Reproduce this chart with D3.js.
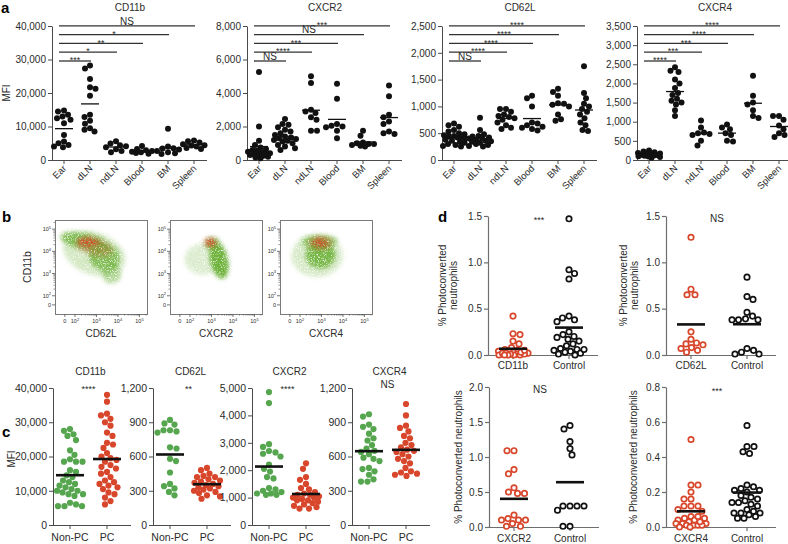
<!DOCTYPE html>
<html><head><meta charset="utf-8">
<script src="https://cdn.jsdelivr.net/npm/d3@7/dist/d3.min.js"></script>
<style>html,body{margin:0;padding:0;background:#fff;} svg{display:block;}</style>
</head><body>
<svg id="fig" width="788" height="544" xmlns="http://www.w3.org/2000/svg"></svg>
<script>
// ================= DATA =================
// Panel a: MFI per tissue (order Ear, dLN, ndLN, Blood, BM, Spleen)
const tissues = ["Ear","dLN","ndLN","Blood","BM","Spleen"];
const aCD11b = [
  [14800,14500,13500,13000,12500,12000,11000,7500,5500,5000,4500,4000,3800],
  [28200,27300,24200,21700,21300,19200,13500,12800,11700,10800,9500,9000,8500],
  [5600,4900,4400,3800,3200,2700,2300,4100],
  [4200,3300,2700,2500,2300,2100,1900,2900],
  [9300,4000,3500,3100,2700,2300,2000,3400,1800],
  [5800,5600,5200,4700,4400,4000,3600,3300,4300]
];
const aCXCR2 = [
  [5250,2000,1150,900,750,650,550,500,450,400,350,300,250,200,150,100,300,400,600],
  [2450,2150,2100,1950,1800,1700,1600,1500,1400,1300,1250,1200,1100,1000,900,800,700,600,1150,1350],
  [5000,4600,3000,2900,2550,2400,1750,1750,2800],
  [4550,3650,2050,2000,1950,1750,1300,2150],
  [1750,1450,1050,1000,950,900,850,800,950],
  [4450,3800,2700,2550,2150,1700,1600,1550,2300]
];
const aCD62L = [
  [680,650,620,560,530,500,480,460,440,420,400,380,360,340,320,300,280,260,250,450,430],
  [790,560,480,450,420,400,380,360,340,320,300,280,260,250,350,410,440],
  [950,950,900,850,800,780,750,700,650,600,580,820],
  [1200,1150,1000,700,650,620,600,580,550,680],
  [1330,1270,1200,1050,1030,1000,850,760,730,1060],
  [1750,1250,1150,1050,950,900,850,780,700,650,560,540,1000]
];
const aCXCR4 = [
  [250,220,200,180,160,150,140,120,100,90,80,170,130,110,60],
  [2420,2330,2300,2100,2000,1880,1750,1700,1600,1550,1500,1450,1300,1150],
  [1030,850,720,700,680,650,500,380],
  [930,850,800,700,650,500,480],
  [2200,1680,1500,1450,1300,1150,1100],
  [1150,1150,1050,800,700,650,600,900]
];
const aCD11bTicks = [0,10000,20000,30000,40000];
const aCXCR2Ticks = [0,2000,4000,6000,8000];
const aCD62LTicks = [0,500,1000,1500,2000,2500];
const aCXCR4Ticks = [0,500,1000,1500,2000,2500,3000,3500];
// significance of Ear vs dLN, ndLN, Blood, BM, Spleen
const aCD11bSig = ["***","*","**","*","NS"];
const aCXCR2Sig = ["NS","****","***","NS","***"];
const aCD62LSig = ["NS","****","****","****","****"];
const aCXCR4Sig = ["****","***","***","****","****"];

// Panel b: flow density clouds (log10 units), pop "all" = all neutrophils, "pc" = photoconverted
const flowDecades = [2,3,4,5];
const bCD62LBlobs = [
  {pop:"all", x:2.45, y:4.45, sx:1.15, sy:0.38, tilt:12, d:0.8},
  {pop:"all", x:3.35, y:3.75, sx:0.75, sy:0.60, tilt:25, d:0.8},
  {pop:"all", x:3.70, y:3.00, sx:0.45, sy:0.45, tilt:0,  d:0.5},
  {pop:"all", x:2.90, y:3.90, sx:1.50, sy:0.95, tilt:20, d:0.3},
  {pop:"pc",  x:2.60, y:4.42, sx:0.50, sy:0.22, tilt:0,  d:0.85},
  {pop:"pc",  x:2.90, y:4.20, sx:0.90, sy:0.40, tilt:15, d:0.3}
];
const bCXCR2Blobs = [
  {pop:"all", x:3.35, y:3.60, sx:0.42, sy:0.85, tilt:-12, d:1.0},
  {pop:"all", x:3.05, y:4.35, sx:0.35, sy:0.30, tilt:0,   d:0.7},
  {pop:"all", x:2.60, y:3.65, sx:0.85, sy:0.70, tilt:0,   d:0.25},
  {pop:"pc",  x:2.95, y:4.40, sx:0.28, sy:0.20, tilt:0,   d:0.9}
];
const bCXCR4Blobs = [
  {pop:"all", x:2.95, y:3.85, sx:0.70, sy:0.62, tilt:0, d:0.9},
  {pop:"all", x:2.90, y:4.45, sx:0.85, sy:0.30, tilt:0, d:0.7},
  {pop:"all", x:2.80, y:3.80, sx:1.20, sy:0.95, tilt:0, d:0.28},
  {pop:"pc",  x:2.95, y:4.38, sx:0.55, sy:0.30, tilt:0, d:0.5},
  {pop:"pc",  x:2.95, y:4.40, sx:0.30, sy:0.18, tilt:0, d:0.7}
];

// Panel c: MFI in non-photoconverted vs photoconverted
const cGroups = ["Non-PC","PC"];
const cCD11b = [
  [27500,28000,26500,26000,24800,21800,20500,18500,18500,18500,19200,16000,15500,14500,14000,13000,12500,12000,11500,11000,10500,10000,10000,9500,9000,9000,8500,6500,6000,5500,5500,5500],
  [38000,36000,32500,32000,31000,30000,29000,27000,26000,24000,23500,22500,21000,20000,19500,19000,18500,17500,17000,16500,15500,15000,14000,13000,12500,12000,11500,10500,9000,8000,7000,6000,11000,9500]
];
const cCD62L = [
  [920,890,880,830,830,820,810,680,670,560,580,460,360,340,320,290,260],
  [500,480,450,430,420,400,390,380,370,360,350,340,330,320,300,290,280,260,250,230,420,310]
];
const cCXCR2 = [
  [4850,4450,2950,2850,2700,2650,2600,2500,2200,2050,1950,1750,1700,1350,1300,1250,1200,1150,1150,1100,1100],
  [2250,2050,1750,1650,1500,1350,1300,1200,1150,1100,1050,1000,950,900,850,800,750,700,650,600,600,1000,1100,900]
];
const cCXCR4 = [
  [970,950,880,860,840,800,760,740,700,670,650,640,620,590,580,560,500,490,470,440,400,380,380],
  [1060,960,870,850,820,780,760,720,700,680,660,650,640,620,600,580,560,540,500,470,460,450,440,430]
];
const cCD11bTicks = [0,10000,20000,30000,40000];
const cCD62LTicks = [0,300,600,900,1200];
const cCXCR2Ticks = [0,1000,2000,3000,4000,5000];
const cCXCR4Ticks = [0,300,600,900,1200];
const cSig = ["****","**","****","NS"];

// Panel d: % photoconverted neutrophils (blocked vs control)
const dCD11b = [
  [0.42,0.23,0.22,0.15,0.12,0.08,0.06,0.05,0.04,0.03,0.02,0.01,0,0,0.01,0.02,0.03,0.04,0.05,0,0.01,0.02,0,0],
  [1.47,0.92,0.88,0.82,0.42,0.40,0.38,0.36,0.25,0.22,0.20,0.19,0.17,0.15,0.12,0.10,0.07,0.06,0.05,0.04,0.03,0.02,0.01,0,0.06]
];
const dCD62L = [
  [1.27,0.71,0.65,0.65,0.25,0.17,0.13,0.12,0.11,0.08,0.07,0.05,0.03],
  [0.84,0.63,0.60,0.46,0.42,0.39,0.38,0.38,0.38,0.07,0.05,0.03,0.01,0.01]
];
const dCXCR2 = [
  [1.09,1.09,0.82,0.76,0.56,0.50,0.48,0.48,0.17,0.12,0.10,0.10,0.10,0.05,0.01,0.01],
  [1.45,1.40,1.22,1.12,1.03,0.30,0.30,0.30,0.30,0.24,0.01,0.01]
];
const dCXCR4 = [
  [0.50,0.24,0.24,0.20,0.16,0.16,0.12,0.12,0.12,0.10,0.09,0.06,0.05,0.05,0.04,0.03,0.02,0.02,0.02,0.01,0.01,0.01,0.01,0,0,0.03,0.04,0.06],
  [0.58,0.46,0.46,0.43,0.42,0.24,0.23,0.22,0.21,0.20,0.18,0.16,0.15,0.14,0.13,0.12,0.10,0.09,0.08,0.08,0.07,0.06,0.05,0.05,0.08,0.17,0.21,0.14]
];
const dCats = [["CD11b","Control"],["CD62L","Control"],["CXCR2","Control"],["CXCR4","Control"]];
const dTicks15 = [0,0.5,1.0,1.5];
const dTicks20 = [0,0.5,1.0,1.5,2.0];
const dTicks08 = [0,0.2,0.4,0.6,0.8];
const dSig = ["***","NS","NS","***"];

// ================= DRAWING =================
const FONT = '"Liberation Sans", Arial, Helvetica, sans-serif';
const TXT = "#2b2b2b", AXC = "#4a4a4a", DAX = "#6e6e6e";
const BLACK = "#111", GREEN_C = "#55a64e", RED_C = "#d8462b";
const FLOW_G = "#6eb23a", FLOW_R = "#cf4a24";
const svg = d3.select("#fig").attr("font-family", FONT);

const defs = svg.append("defs");
function grain(id, seed, offs){
  const f = defs.append("filter").attr("id", id).attr("x","-40%").attr("y","-40%").attr("width","180%").attr("height","180%");
  f.append("feGaussianBlur").attr("in","SourceGraphic").attr("stdDeviation",2.0).attr("result","b");
  f.append("feTurbulence").attr("type","fractalNoise").attr("baseFrequency",1.3).attr("numOctaves",2).attr("seed",seed).attr("result","n");
  f.append("feColorMatrix").attr("in","n").attr("type","matrix")
    .attr("values",`0 0 0 0 1  0 0 0 0 1  0 0 0 0 1  3.2 0 0 0 ${offs}`).attr("result","m");
  f.append("feComposite").attr("in","b").attr("in2","m").attr("operator","in");
}
grain("grainG", 4, -0.55);
grain("grainR", 9, -0.7);

function txt(g, x, y, s, o = {}){
  const t = g.append("text").attr("x", x).attr("y", y).text(s)
    .attr("fill", o.fill || TXT).attr("font-size", o.fs || 10)
    .attr("text-anchor", o.anchor || "middle");
  if (o.bold) t.attr("font-weight", "bold");
  if (o.rot != null) t.attr("transform", `rotate(${o.rot},${x},${y})`);
  return t;
}
function yAxis(g, x0, y, ticks, fmt, fs, col, sw){
  const gg = g.append("g").attr("transform", `translate(${x0},0)`)
    .call(d3.axisLeft(y).tickValues(ticks).tickFormat(fmt).tickSize(4).tickSizeOuter(0).tickPadding(2));
  gg.attr("font-family", FONT).attr("font-size", fs);
  gg.select(".domain").attr("stroke", col).attr("stroke-width", sw || 1);
  gg.selectAll(".tick line").attr("stroke", col).attr("stroke-width", sw || 1);
  gg.selectAll(".tick text").attr("fill", TXT);
}
function xAxis(g, x0, x1, yb, xs, col, sw){
  g.append("line").attr("x1", x0).attr("x2", x1).attr("y1", yb + 0.5).attr("y2", yb + 0.5)
    .attr("stroke", col).attr("stroke-width", sw || 1);
  xs.forEach(x => g.append("line").attr("x1", x).attr("x2", x).attr("y1", yb).attr("y2", yb + 4)
    .attr("stroke", col).attr("stroke-width", sw || 1));
}
// simple beeswarm: horizontal offsets so dots do not overlap
function swarm(vals, y, r, maxW){
  const pts = vals.map((v, i) => ({i, py: y(v)})).sort((a, b) => a.py - b.py);
  const placed = [], off = new Array(vals.length).fill(0);
  const need = 2 * r;
  pts.forEach((p, n) => {
    const sgn = n % 2 ? -1 : 1;
    const cands = [0];
    for (let s = 0.5; s <= maxW; s += 0.5) cands.push(sgn * s, -sgn * s);
    let chosen = null, best = -1, bestOff = 0;
    for (const c of cands){
      let md = Infinity;
      for (const q of placed){ const d = Math.hypot(c - q.x, p.py - q.y); if (d < md) md = d; }
      if (md >= need){ chosen = c; break; }
      if (md > best){ best = md; bestOff = c; }
    }
    const x = chosen === null ? bestOff : chosen;
    placed.push({x, y: p.py}); off[p.i] = x;
  });
  return off;
}
function sigText(g, x, s, nsBase, starBase){
  if (s === "NS") txt(g, x, nsBase, s, {fs: 10});
  else txt(g, x, starBase, s, {fs: 9});
}

// ---------- panel letters ----------
txt(svg, 1, 13, "a", {fs: 15, bold: true, anchor: "start", fill: "#000"});
txt(svg, 2, 222, "b", {fs: 15, bold: true, anchor: "start", fill: "#000"});
txt(svg, 2, 437, "c", {fs: 15, bold: true, anchor: "start", fill: "#000"});
txt(svg, 438, 222, "d", {fs: 15, bold: true, anchor: "start", fill: "#000"});

// ---------- panel a ----------
function panelA(x0, title, data, ticks, sig){
  const g = svg.append("g");
  const y = d3.scaleLinear().domain([0, d3.max(ticks)]).range([160, 26]);
  const x = d3.scalePoint().domain(tissues).range([x0 + 12, x0 + 142]);
  yAxis(g, x0, y, ticks, d3.format(","), 10, AXC);
  xAxis(g, x0, x0 + 155, 160, tissues.map(x), AXC);
  tissues.forEach(t => txt(g, x(t) + 3, 169, t, {fs: 9.5, anchor: "end", rot: -45}));
  txt(g, x0 + 78, 11, title, {fs: 10});
  data.forEach((vals, i) => {
    const cx = x(tissues[i]);
    const off = swarm(vals, y, 2.8, 11);
    g.selectAll(null).data(vals).enter().append("circle")
      .attr("cx", (d, j) => cx + off[j]).attr("cy", d => y(d)).attr("r", 3).attr("fill", BLACK);
    const m = d3.mean(vals);
    g.append("line").attr("x1", cx - 9).attr("x2", cx + 9).attr("y1", y(m)).attr("y2", y(m))
      .attr("stroke", BLACK).attr("stroke-width", 1.3);
  });
  sig.forEach((s, i) => {
    const ly = 61 - 8.8 * i;
    const xs = x(tissues[0]) - 5, xe = x(tissues[i + 1]) + 1;
    g.append("line").attr("x1", xs).attr("x2", xe).attr("y1", ly).attr("y2", ly)
      .attr("stroke", "#333").attr("stroke-width", 1.3);
    sigText(g, (xs + xe) / 2, s, ly - 1.3, ly + 2.2);
  });
}
panelA(52, "CD11b", aCD11b, aCD11bTicks, aCD11bSig);
panelA(247, "CXCR2", aCXCR2, aCXCR2Ticks, aCXCR2Sig);
panelA(442, "CD62L", aCD62L, aCD62LTicks, aCD62LSig);
panelA(637, "CXCR4", aCXCR4, aCXCR4Ticks, aCXCR4Sig);
txt(svg, 9.5, 93, "MFI", {fs: 10, rot: -90});

// ---------- panel b ----------
function flowLabel(g, x, y, exp, anchor){
  const t = g.append("text").attr("x", x).attr("y", y).attr("text-anchor", anchor)
    .attr("font-size", 5.5).attr("fill", TXT);
  if (exp === null){ t.text("0"); return; }
  t.append("tspan").text("10");
  t.append("tspan").text(exp).attr("font-size", 4).attr("dy", -2.3);
}
function panelB(x0, xlab, blobs){
  const g = svg.append("g");
  const sx = d3.scaleLinear().domain([1.07, 5.35]).range([x0, x0 + 92]);
  const sy = d3.scaleLinear().domain([1.18, 5.41]).range([314, 220]);
  const id = "clip" + x0;
  g.append("clipPath").attr("id", id).append("rect").attr("x", x0).attr("y", 220).attr("width", 92).attr("height", 94);
  const pxX = sx(1) - sx(0), pxY = sy(0) - sy(1);
  const layer = g.append("g").attr("clip-path", `url(#${id})`);
  ["all", "pc"].forEach(pop => {
    const gl = layer.append("g").attr("filter", pop === "all" ? "url(#grainG)" : "url(#grainR)");
    blobs.filter(b => b.pop === pop).forEach(b => {
      const cx = sx(b.x), cy = sy(b.y);
      gl.append("ellipse").attr("cx", cx).attr("cy", cy).attr("rx", b.sx * pxX).attr("ry", b.sy * pxY)
        .attr("transform", `rotate(${b.tilt},${cx},${cy})`)
        .attr("fill", pop === "all" ? FLOW_G : FLOW_R).attr("fill-opacity", b.d);
    });
  });
  g.append("rect").attr("x", x0 + 0.5).attr("y", 220.5).attr("width", 92).attr("height", 94)
    .attr("fill", "none").attr("stroke", "#7a7a7a").attr("stroke-width", 1);
  // ticks
  const minors = [];
  flowDecades.forEach(dd => { for (let k = 2; k <= 9; k++){ const v = dd + Math.log10(k); if (v < 5.35) minors.push(v); } });
  const majY = [1.59].concat(flowDecades), majX = [1.53].concat(flowDecades);
  majY.forEach((v, i) => {
    g.append("line").attr("x1", x0 - 3).attr("x2", x0).attr("y1", sy(v)).attr("y2", sy(v)).attr("stroke", "#555").attr("stroke-width", 0.8);
    flowLabel(g, x0 - 4, sy(v) + 2, i === 0 ? null : String(v), "end");
  });
  majX.forEach((v, i) => {
    g.append("line").attr("x1", sx(v)).attr("x2", sx(v)).attr("y1", 314).attr("y2", 317).attr("stroke", "#555").attr("stroke-width", 0.8);
    flowLabel(g, sx(v), 323, i === 0 ? null : String(v), "middle");
  });
  minors.forEach(v => {
    if (v < 5.41) g.append("line").attr("x1", x0 - 1.6).attr("x2", x0).attr("y1", sy(v)).attr("y2", sy(v)).attr("stroke", "#555").attr("stroke-width", 0.6);
    g.append("line").attr("x1", sx(v)).attr("x2", sx(v)).attr("y1", 314).attr("y2", 315.6).attr("stroke", "#555").attr("stroke-width", 0.6);
  });
  txt(g, x0 + 46, 337, xlab, {fs: 10});
}
panelB(55, "CD62L", bCD62LBlobs);
panelB(170, "CXCR2", bCXCR2Blobs);
panelB(280, "CXCR4", bCXCR4Blobs);
txt(svg, 31, 267, "CD11b", {fs: 10.5, rot: -90});

// ---------- panel c ----------
function panelC(x0, title, data, ticks, sig){
  const g = svg.append("g");
  const y = d3.scaleLinear().domain([0, d3.max(ticks)]).range([525, 388]);
  const x = d3.scalePoint().domain(cGroups).range([x0 + 17, x0 + 54]);
  yAxis(g, x0, y, ticks, d3.format(","), 10.5, AXC);
  xAxis(g, x0, x0 + 78, 525, cGroups.map(x), AXC);
  cGroups.forEach(c => txt(g, x(c), 541, c, {fs: 10.5}));
  const mid = (x(cGroups[0]) + x(cGroups[1])) / 2;
  txt(g, mid + 2, 375, title, {fs: 10});
  sigText(g, mid, sig, 388, 392);
  data.forEach((vals, i) => {
    const cx = x(cGroups[i]);
    const off = swarm(vals, y, 3.1, 13);
    g.selectAll(null).data(vals).enter().append("circle")
      .attr("cx", (d, j) => cx + off[j]).attr("cy", d => y(d)).attr("r", 3.1)
      .attr("fill", i ? RED_C : GREEN_C);
    const m = d3.mean(vals);
    g.append("line").attr("x1", cx - 14).attr("x2", cx + 14).attr("y1", y(m)).attr("y2", y(m))
      .attr("stroke", BLACK).attr("stroke-width", 2.6);
  });
}
panelC(53, "CD11b", cCD11b, cCD11bTicks, cSig[0]);
panelC(153, "CD62L", cCD62L, cCD62LTicks, cSig[1]);
panelC(252, "CXCR2", cCXCR2, cCXCR2Ticks, cSig[2]);
panelC(352, "CXCR4", cCXCR4, cCXCR4Ticks, cSig[3]);
txt(svg, 15, 459, "MFI", {fs: 10, rot: -90});

// ---------- panel d ----------
function panelD(x0, yTop, yBot, ticks, cats, data, sig, labXs, labLines, catY){
  const g = svg.append("g");
  const y = d3.scaleLinear().domain([0, d3.max(ticks)]).range([yBot, yTop]);
  const x = d3.scalePoint().domain(cats).range([x0 + 25, x0 + 81]);
  yAxis(g, x0, y, ticks, d3.format(".1f"), 10, DAX, 1.2);
  xAxis(g, x0, x0 + 110, yBot, cats.map(x), DAX, 1.2);
  cats.forEach(c => txt(g, x(c), catY, c, {fs: 10}));
  sigText(g, x0 + 51, sig, yTop + 5.5, yTop + 7);
  const yc = (yTop + yBot) / 2;
  labLines.forEach((l, i) => txt(g, labXs[i], yc, l, {fs: 10, rot: -90}));
  data.forEach((vals, i) => {
    const cx = x(cats[i]);
    const off = swarm(vals, y, 3.3, 15);
    g.selectAll(null).data(vals).enter().append("circle")
      .attr("cx", (d, j) => cx + off[j]).attr("cy", d => y(d)).attr("r", 2.7)
      .attr("fill", "#fff").attr("stroke", i ? BLACK : RED_C).attr("stroke-width", 1.7);
    const m = d3.mean(vals);
    g.append("line").attr("x1", cx - 14).attr("x2", cx + 14).attr("y1", y(m)).attr("y2", y(m))
      .attr("stroke", BLACK).attr("stroke-width", 2.6);
  });
}
panelD(488, 216, 355, dTicks15, dCats[0], dCD11b, dSig[0], [446, 457], ["% Photoconverted", "neutrophils"], 369);
panelD(666, 216, 355, dTicks15, dCats[1], dCD62L, dSig[1], [627, 638], ["% Photoconverted", "neutrophils"], 369);
panelD(489, 387, 527, dTicks20, dCats[2], dCXCR2, dSig[2], [462], ["% Photoconverted neutrophils"], 542);
panelD(666, 387, 527, dTicks08, dCats[3], dCXCR4, dSig[3], [637], ["% Photoconverted neutrophils"], 542);
</script>
</body></html>
